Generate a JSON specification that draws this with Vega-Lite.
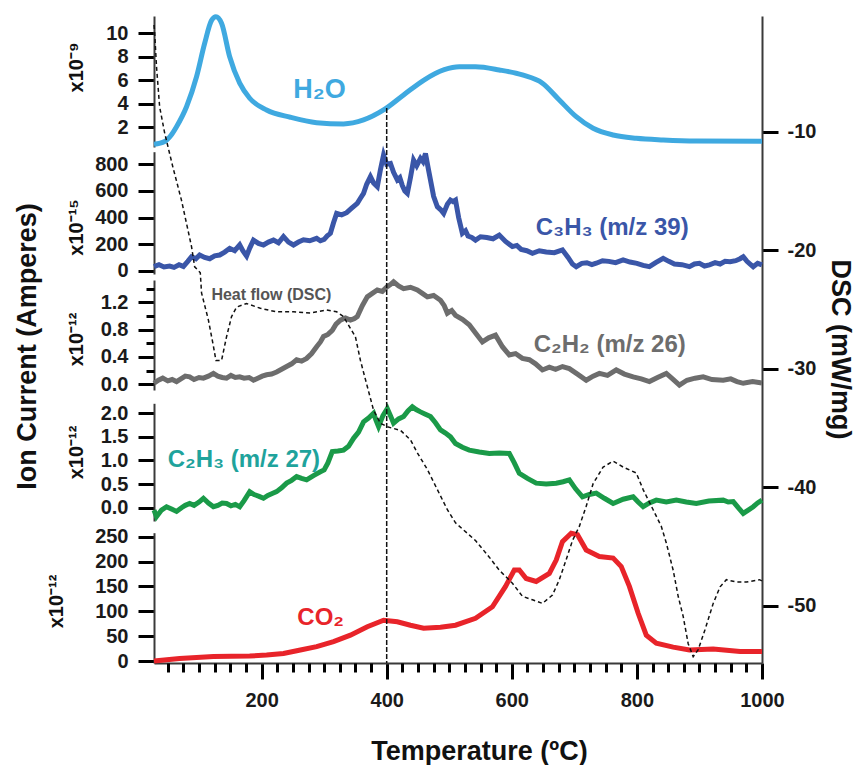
{
  "$schema": "https://vega.github.io/schema/vega-lite/v6.json",
  "width": 608,
  "height": 647,
  "autosize": {"type": "none"},
  "padding": {"left": 154, "top": 16, "right": 97, "bottom": 102},
  "background": "white",
  "config": {
    "view": {"stroke": null},
    "axis": {
      "domainColor": "#3a3a3a", "domainWidth": 2, "tickColor": "black", "tickWidth": 3,
      "tickSize": 16, "labelPadding": 10, "labelFont": "Liberation Sans", "labelFontSize": 20,
      "labelFontWeight": "bold", "labelColor": "#1a1a1a", "titleFont": "Liberation Sans",
      "titleFontWeight": "bold", "titleColor": "#111111", "grid": false, "labelFlush": false,
      "labelOverlap": false
    }
  },
  "datasets": {
    "h2o": [
      {"T":28,"v":0.55},{"T":45,"v":0.78},{"T":55,"v":1.3},{"T":64,"v":2.05},{"T":80,"v":3.75},{"T":96,"v":6.3},{"T":109,"v":9.15},{"T":120,"v":11.1},{"T":127,"v":11.4},{"T":136,"v":10.85},{"T":149,"v":8.0},{"T":165,"v":5.75},{"T":181,"v":4.47},{"T":208,"v":3.47},{"T":246,"v":2.85},{"T":288,"v":2.39},{"T":331,"v":2.28},{"T":363,"v":2.62},{"T":395,"v":3.47},{"T":427,"v":4.75},{"T":459,"v":6.0},{"T":492,"v":6.9},{"T":516,"v":7.15},{"T":542,"v":7.15},{"T":580,"v":6.88},{"T":617,"v":6.45},{"T":649,"v":5.75},{"T":676,"v":4.32},{"T":703,"v":2.9},{"T":730,"v":1.91},{"T":762,"v":1.34},{"T":799,"v":1.06},{"T":842,"v":0.92},{"T":895,"v":0.83},{"T":1000,"v":0.81}
    ],
    "c3h3": [
      {"T":28,"v":30},{"T":36,"v":45},{"T":44,"v":28},{"T":53,"v":35},{"T":60,"v":25},{"T":68,"v":45},{"T":75,"v":32},{"T":82,"v":70},{"T":88,"v":105},{"T":95,"v":90},{"T":101,"v":118},{"T":109,"v":100},{"T":117,"v":90},{"T":125,"v":112},{"T":133,"v":118},{"T":141,"v":140},{"T":149,"v":168},{"T":157,"v":150},{"T":165,"v":194},{"T":170,"v":150},{"T":176,"v":110},{"T":181,"v":170},{"T":187,"v":230},{"T":195,"v":205},{"T":203,"v":193},{"T":211,"v":215},{"T":219,"v":230},{"T":227,"v":210},{"T":235,"v":256},{"T":243,"v":215},{"T":251,"v":193},{"T":259,"v":215},{"T":267,"v":232},{"T":277,"v":225},{"T":288,"v":243},{"T":294,"v":225},{"T":300,"v":235},{"T":305,"v":262},{"T":310,"v":281},{"T":315,"v":360},{"T":320,"v":431},{"T":328,"v":420},{"T":336,"v":436},{"T":344,"v":470},{"T":353,"v":507},{"T":358,"v":545},{"T":363,"v":582},{"T":368,"v":650},{"T":374,"v":707},{"T":379,"v":660},{"T":385,"v":632},{"T":390,"v":760},{"T":395,"v":870},{"T":400,"v":800},{"T":406,"v":807},{"T":411,"v":740},{"T":417,"v":683},{"T":421,"v":700},{"T":425,"v":640},{"T":429,"v":600},{"T":433,"v":582},{"T":438,"v":700},{"T":443,"v":832},{"T":448,"v":790},{"T":454,"v":845},{"T":458,"v":820},{"T":462,"v":882},{"T":466,"v":780},{"T":470,"v":682},{"T":475,"v":560},{"T":481,"v":481},{"T":486,"v":460},{"T":491,"v":431},{"T":497,"v":500},{"T":502,"v":531},{"T":506,"v":520},{"T":510,"v":531},{"T":515,"v":400},{"T":521,"v":281},{"T":526,"v":300},{"T":530,"v":260},{"T":536,"v":250},{"T":542,"v":230},{"T":550,"v":255},{"T":560,"v":250},{"T":570,"v":240},{"T":580,"v":268},{"T":590,"v":220},{"T":601,"v":181},{"T":608,"v":190},{"T":615,"v":160},{"T":624,"v":150},{"T":633,"v":131},{"T":644,"v":150},{"T":655,"v":140},{"T":668,"v":135},{"T":681,"v":156},{"T":690,"v":100},{"T":697,"v":50},{"T":703,"v":30},{"T":712,"v":55},{"T":720,"v":60},{"T":728,"v":45},{"T":735,"v":56},{"T":745,"v":75},{"T":755,"v":70},{"T":766,"v":60},{"T":778,"v":81},{"T":789,"v":65},{"T":800,"v":55},{"T":810,"v":40},{"T":820,"v":30},{"T":830,"v":60},{"T":842,"v":93},{"T":851,"v":70},{"T":860,"v":50},{"T":872,"v":45},{"T":884,"v":30},{"T":892,"v":50},{"T":900,"v":55},{"T":908,"v":35},{"T":916,"v":44},{"T":925,"v":60},{"T":933,"v":50},{"T":941,"v":70},{"T":949,"v":68},{"T":958,"v":75},{"T":965,"v":90},{"T":970,"v":105},{"T":976,"v":70},{"T":981,"v":50},{"T":986,"v":30},{"T":993,"v":55},{"T":1000,"v":43}
    ],
    "c2h2": [
      {"T":28,"v":0.015},{"T":35,"v":0.06},{"T":42,"v":0.09},{"T":50,"v":0.05},{"T":57,"v":0.07},{"T":64,"v":0.04},{"T":71,"v":0.08},{"T":78,"v":0.12},{"T":85,"v":0.11},{"T":92,"v":0.07},{"T":100,"v":0.1},{"T":107,"v":0.09},{"T":115,"v":0.12},{"T":123,"v":0.16},{"T":130,"v":0.12},{"T":137,"v":0.1},{"T":144,"v":0.09},{"T":151,"v":0.13},{"T":158,"v":0.1},{"T":165,"v":0.11},{"T":172,"v":0.09},{"T":180,"v":0.1},{"T":187,"v":0.06},{"T":194,"v":0.09},{"T":201,"v":0.12},{"T":208,"v":0.14},{"T":216,"v":0.15},{"T":224,"v":0.18},{"T":232,"v":0.22},{"T":240,"v":0.26},{"T":248,"v":0.3},{"T":256,"v":0.36},{"T":264,"v":0.34},{"T":272,"v":0.38},{"T":280,"v":0.45},{"T":288,"v":0.55},{"T":294,"v":0.62},{"T":299,"v":0.7},{"T":306,"v":0.73},{"T":313,"v":0.79},{"T":319,"v":0.88},{"T":326,"v":0.94},{"T":334,"v":0.97},{"T":342,"v":0.94},{"T":348,"v":0.96},{"T":353,"v":0.99},{"T":361,"v":1.15},{"T":369,"v":1.28},{"T":377,"v":1.33},{"T":385,"v":1.38},{"T":393,"v":1.36},{"T":401,"v":1.43},{"T":406,"v":1.46},{"T":411,"v":1.5},{"T":419,"v":1.44},{"T":427,"v":1.4},{"T":438,"v":1.42},{"T":449,"v":1.38},{"T":457,"v":1.33},{"T":465,"v":1.28},{"T":475,"v":1.3},{"T":486,"v":1.23},{"T":492,"v":1.15},{"T":497,"v":1.04},{"T":504,"v":1.08},{"T":510,"v":1.01},{"T":521,"v":0.95},{"T":532,"v":0.87},{"T":542,"v":0.75},{"T":553,"v":0.62},{"T":563,"v":0.68},{"T":574,"v":0.72},{"T":585,"v":0.55},{"T":596,"v":0.43},{"T":606,"v":0.45},{"T":617,"v":0.38},{"T":628,"v":0.36},{"T":638,"v":0.3},{"T":649,"v":0.21},{"T":660,"v":0.25},{"T":670,"v":0.22},{"T":681,"v":0.26},{"T":692,"v":0.23},{"T":705,"v":0.15},{"T":719,"v":0.06},{"T":730,"v":0.12},{"T":740,"v":0.16},{"T":753,"v":0.13},{"T":767,"v":0.21},{"T":780,"v":0.15},{"T":794,"v":0.11},{"T":807,"v":0.08},{"T":820,"v":0.04},{"T":833,"v":0.1},{"T":847,"v":0.16},{"T":857,"v":0.08},{"T":868,"v":-0.01},{"T":880,"v":0.06},{"T":893,"v":0.09},{"T":906,"v":0.11},{"T":920,"v":0.07},{"T":938,"v":0.06},{"T":950,"v":0.08},{"T":960,"v":0.04},{"T":970,"v":0.015},{"T":985,"v":0.04},{"T":1000,"v":0.02}
    ],
    "c2h3": [
      {"T":28,"v":-0.05},{"T":32,"v":-0.19},{"T":40,"v":-0.05},{"T":48,"v":0.02},{"T":56,"v":-0.03},{"T":64,"v":-0.08},{"T":72,"v":0.0},{"T":78,"v":0.05},{"T":85,"v":0.09},{"T":92,"v":0.05},{"T":100,"v":0.12},{"T":107,"v":0.2},{"T":115,"v":0.1},{"T":123,"v":0.02},{"T":130,"v":0.05},{"T":137,"v":0.1},{"T":144,"v":0.09},{"T":151,"v":0.04},{"T":158,"v":0.07},{"T":165,"v":0.02},{"T":172,"v":0.15},{"T":181,"v":0.34},{"T":188,"v":0.28},{"T":196,"v":0.24},{"T":203,"v":0.2},{"T":210,"v":0.26},{"T":217,"v":0.3},{"T":224,"v":0.34},{"T":232,"v":0.42},{"T":240,"v":0.52},{"T":248,"v":0.58},{"T":256,"v":0.66},{"T":264,"v":0.62},{"T":272,"v":0.59},{"T":283,"v":0.68},{"T":294,"v":0.76},{"T":300,"v":0.8},{"T":306,"v":0.95},{"T":313,"v":1.19},{"T":322,"v":1.2},{"T":331,"v":1.22},{"T":339,"v":1.3},{"T":347,"v":1.47},{"T":355,"v":1.6},{"T":363,"v":1.82},{"T":371,"v":1.9},{"T":379,"v":2.0},{"T":383,"v":1.85},{"T":387,"v":1.72},{"T":394,"v":1.95},{"T":401,"v":2.1},{"T":406,"v":1.95},{"T":411,"v":1.79},{"T":419,"v":1.88},{"T":427,"v":1.93},{"T":434,"v":2.05},{"T":441,"v":2.14},{"T":447,"v":2.08},{"T":454,"v":2.03},{"T":462,"v":1.98},{"T":470,"v":1.93},{"T":478,"v":1.8},{"T":486,"v":1.65},{"T":494,"v":1.58},{"T":502,"v":1.5},{"T":510,"v":1.36},{"T":521,"v":1.28},{"T":532,"v":1.22},{"T":548,"v":1.18},{"T":564,"v":1.15},{"T":580,"v":1.16},{"T":596,"v":1.15},{"T":604,"v":0.95},{"T":612,"v":0.73},{"T":625,"v":0.62},{"T":639,"v":0.52},{"T":655,"v":0.5},{"T":671,"v":0.52},{"T":682,"v":0.55},{"T":692,"v":0.59},{"T":702,"v":0.4},{"T":713,"v":0.23},{"T":724,"v":0.28},{"T":735,"v":0.31},{"T":748,"v":0.2},{"T":762,"v":0.09},{"T":778,"v":0.18},{"T":794,"v":0.23},{"T":802,"v":0.12},{"T":810,"v":0.02},{"T":820,"v":0.1},{"T":831,"v":0.16},{"T":847,"v":0.12},{"T":863,"v":0.16},{"T":879,"v":0.12},{"T":895,"v":0.09},{"T":915,"v":0.14},{"T":938,"v":0.16},{"T":946,"v":0.12},{"T":954,"v":0.13},{"T":962,"v":0.0},{"T":970,"v":-0.12},{"T":978,"v":-0.05},{"T":986,"v":0.02},{"T":993,"v":0.1},{"T":1000,"v":0.16}
    ],
    "co2": [
      {"T":28,"v":0},{"T":69,"v":5},{"T":123,"v":9},{"T":181,"v":10},{"T":208,"v":12},{"T":235,"v":15},{"T":262,"v":22},{"T":288,"v":29},{"T":315,"v":39},{"T":342,"v":52},{"T":369,"v":69},{"T":395,"v":82},{"T":417,"v":79},{"T":438,"v":72},{"T":459,"v":66},{"T":486,"v":68},{"T":510,"v":72},{"T":542,"v":86},{"T":569,"v":109},{"T":590,"v":150},{"T":604,"v":183},{"T":612,"v":183},{"T":623,"v":166},{"T":639,"v":160},{"T":660,"v":176},{"T":671,"v":203},{"T":681,"v":240},{"T":695,"v":257},{"T":705,"v":254},{"T":719,"v":223},{"T":740,"v":210},{"T":762,"v":207},{"T":775,"v":190},{"T":788,"v":150},{"T":802,"v":96},{"T":815,"v":52},{"T":831,"v":36},{"T":858,"v":28},{"T":884,"v":22},{"T":922,"v":24},{"T":965,"v":19},{"T":1000,"v":19}
    ],
    "dsc": [
      {"T":28,"v":-1.0},{"T":29,"v":-1.6},{"T":32,"v":-4.5},{"T":37,"v":-7.9},{"T":45,"v":-10.1},{"T":58,"v":-12.95},{"T":72,"v":-15.8},{"T":88,"v":-19.7},{"T":93,"v":-21.4},{"T":102,"v":-21.9},{"T":104,"v":-23.6},{"T":115,"v":-25.9},{"T":123,"v":-28.1},{"T":127,"v":-29.3},{"T":136,"v":-29.3},{"T":144,"v":-27.3},{"T":152,"v":-25.6},{"T":160,"v":-24.8},{"T":176,"v":-24.5},{"T":198,"v":-24.9},{"T":224,"v":-25.2},{"T":251,"v":-25.2},{"T":278,"v":-25.3},{"T":304,"v":-25.05},{"T":320,"v":-25.2},{"T":331,"v":-25.6},{"T":342,"v":-26.6},{"T":350,"v":-27.3},{"T":358,"v":-29.3},{"T":369,"v":-31.5},{"T":379,"v":-33.5},{"T":390,"v":-34.6},{"T":401,"v":-34.9},{"T":422,"v":-35.2},{"T":438,"v":-36.0},{"T":449,"v":-37.1},{"T":465,"v":-38.5},{"T":481,"v":-40.2},{"T":497,"v":-41.9},{"T":510,"v":-43.0},{"T":542,"v":-44.5},{"T":564,"v":-45.9},{"T":580,"v":-47.0},{"T":601,"v":-48.1},{"T":617,"v":-49.2},{"T":633,"v":-49.5},{"T":649,"v":-49.8},{"T":665,"v":-49.1},{"T":676,"v":-47.8},{"T":687,"v":-46.1},{"T":697,"v":-44.5},{"T":708,"v":-43.3},{"T":719,"v":-41.6},{"T":730,"v":-39.7},{"T":746,"v":-38.3},{"T":762,"v":-37.8},{"T":778,"v":-38.3},{"T":799,"v":-38.8},{"T":810,"v":-40.2},{"T":826,"v":-41.9},{"T":839,"v":-43.3},{"T":847,"v":-44.7},{"T":858,"v":-47.0},{"T":866,"v":-49.2},{"T":874,"v":-50.9},{"T":882,"v":-53.2},{"T":890,"v":-54.3},{"T":898,"v":-53.7},{"T":909,"v":-52.0},{"T":922,"v":-49.8},{"T":933,"v":-48.4},{"T":943,"v":-47.8},{"T":959,"v":-48.0},{"T":975,"v":-48.0},{"T":996,"v":-47.8},{"T":1000,"v":-47.9}
    ],
    "marker": [{"T":400,"v":-8.0,"v2":-54.83}],
    "labels": [
      {"T":760.5,"v":-18.72,"label":"C₃H₃  (m/z 39)","series":"C3H3"},
      {"T":756.6,"v":-28.56,"label":"C₂H₂ (m/z 26)","series":"C2H2"},
      {"T":171.7,"v":-38.26,"label":"C₂H₃ (m/z 27)","series":"C2H3"},
      {"T":294.5,"v":-51.62,"label":"CO₂","series":"CO2"}
    ],
    "h2olabel": [{"T":292.4,"v":-7.18,"label":"H₂O"}],
    "heatlabel": [{"T":215.7,"v":1.234,"label":"Heat flow (DSC)"}]
  },
  "encoding": {
    "x": {"field": "T", "type": "quantitative", "scale": {"domain": [28, 1000], "nice": false, "zero": false}, "axis": null}
  },
  "layer": [
    {
      "data": {"name": "h2o"},
      "mark": {"type": "line", "color": "#3FA9E0", "strokeWidth": 5, "interpolate": "monotone"},
      "encoding": {
        "x": {"field": "T", "type": "quantitative", "scale": {"domain": [28, 1000], "nice": false, "zero": false},
          "axis": {"orient": "bottom", "values": [200, 400, 600, 800, 1000], "format": "d", "tickSize": 16, "labelPadding": 11,
            "title": "Temperature (ºC)", "titleFontSize": 27, "titleX": 325, "titleY": 75}},
        "y": {"field": "v", "type": "quantitative",
          "scale": {"domain": [0.32, 11.47], "range": [131, 0], "nice": false, "zero": false},
          "axis": {"orient": "left", "values": [2,4,6,8,10], "title": "x10⁻⁹", "titleFontSize": 20, "titleX": -68, "titleY": 51}}
      }
    },
    {
      "data": {"name": "c3h3"},
      "mark": {"type": "line", "color": "#3A56A8", "strokeWidth": 5},
      "encoding": {
        "y": {"field": "v", "type": "quantitative",
          "scale": {"domain": [-25, 895], "range": [258, 135.7], "nice": false, "zero": false},
          "axis": {"orient": "left", "values": [0,200,400,600,800], "title": "x10⁻¹⁵", "titleFontSize": 20, "titleX": -68, "titleY": 211}}
      }
    },
    {
      "data": {"name": "c2h2"},
      "mark": {"type": "line", "color": "#6D6D6D", "strokeWidth": 5},
      "encoding": {
        "y": {"field": "v", "type": "quantitative",
          "scale": {"domain": [-0.083, 1.526], "range": [374, 264], "nice": false, "zero": false},
          "axis": {"orient": "left", "values": [0,0.4,0.8,1.2], "format": ".1f", "title": "x10⁻¹²", "titleFontSize": 20, "titleX": -68, "titleY": 323}}
      }
    },
    {
      "data": {"name": "c2h3"},
      "mark": {"type": "line", "color": "#1A9A48", "strokeWidth": 5},
      "encoding": {
        "y": {"field": "v", "type": "quantitative",
          "scale": {"domain": [-0.282, 2.212], "range": [505, 387.3], "nice": false, "zero": false},
          "axis": {"orient": "left", "values": [0,0.5,1.0,1.5,2.0], "format": ".1f", "title": "x10⁻¹²", "titleFontSize": 20, "titleX": -68, "titleY": 436}}
      }
    },
    {
      "data": {"name": "co2"},
      "mark": {"type": "line", "color": "#E8242A", "strokeWidth": 5},
      "encoding": {
        "y": {"field": "v", "type": "quantitative",
          "scale": {"domain": [-4, 258], "range": [647, 516.7], "nice": false, "zero": false},
          "axis": {"orient": "left", "values": [0,50,100,150,200,250], "title": "x10⁻¹²", "titleFontSize": 20, "titleX": -88, "titleY": 585}}
      }
    },
    {
      "data": {"name": "dsc"},
      "mark": {"type": "line", "color": "#111111", "strokeWidth": 1.5, "strokeDash": [4, 3]},
      "encoding": {
        "y": {"field": "v", "type": "quantitative",
          "scale": {"domain": [-54.83, -0.24], "range": [647, 0], "nice": false, "zero": false},
          "axis": {"orient": "right", "values": [-50,-40,-30,-20,-10], "labelExpr": "'-' + abs(datum.value)", "labelPadding": 9, "title": "DSC (mW/mg)", "titleFontSize": 27, "titleX": 63, "titleY": 333}}
      }
    },
    {
      "data": {"name": "marker"},
      "mark": {"type": "rule", "color": "#111111", "strokeWidth": 1.5, "strokeDash": [5, 2]},
      "encoding": {
        "y": {"field": "v", "type": "quantitative",
          "scale": {"domain": [-54.83, -0.24], "range": [647, 0], "nice": false, "zero": false}, "axis": null},
        "y2": {"field": "v2"}
      }
    },
    {
      "data": {"name": "labels"},
      "mark": {"type": "text", "font": "Liberation Sans", "fontWeight": "bold", "fontSize": 24, "align": "center", "baseline": "alphabetic"},
      "encoding": {
        "y": {"field": "v", "type": "quantitative",
          "scale": {"domain": [-54.83, -0.24], "range": [647, 0], "nice": false, "zero": false},
          "axis": {"orient": "left", "domain": false, "ticks": false, "labels": false, "title": "Ion Current (Amperes)", "titleFontSize": 27, "titleX": -113, "titleY": 330}},
        "text": {"field": "label"},
        "color": {"field": "series", "type": "nominal",
          "scale": {"domain": ["C3H3","C2H2","C2H3","CO2"], "range": ["#3A56A8","#6D6D6D","#1FA39C","#E8242A"]}, "legend": null}
      }
    },
    {
      "data": {"name": "h2olabel"},
      "mark": {"type": "text", "font": "Liberation Sans", "fontWeight": "bold", "fontSize": 27, "align": "center", "baseline": "alphabetic", "color": "#3FA9E0"},
      "encoding": {
        "x": {"field": "T", "type": "quantitative", "scale": {"domain": [28, 1000], "nice": false, "zero": false},
          "axis": {"orient": "bottom", "values": [50,75,100,125,150,175,225,250,275,300,325,350,375,425,450,475,500,525,550,575,625,650,675,700,725,750,775,825,850,875,900,925,950,975],
            "tickSize": 9, "labels": false, "domain": false, "title": null}},
        "y": {"field": "v", "type": "quantitative",
          "scale": {"domain": [-54.83, -0.24], "range": [647, 0], "nice": false, "zero": false}, "axis": null},
        "text": {"field": "label"}
      }
    },
    {
      "data": {"name": "heatlabel"},
      "mark": {"type": "text", "font": "Liberation Sans", "fontWeight": "bold", "fontSize": 16, "align": "center", "baseline": "alphabetic", "color": "#555555"},
      "encoding": {
        "y": {"field": "v", "type": "quantitative",
          "scale": {"domain": [-0.083, 1.526], "range": [374, 264], "nice": false, "zero": false},
          "axis": {"orient": "left", "values": [0.2, 0.6, 1.0, 1.4], "tickSize": 8, "labels": false, "domain": false, "title": null}},
        "text": {"field": "label"}
      }
    }
  ],
  "resolve": {"scale": {"y": "independent", "color": "independent"}, "axis": {"x": "independent"}}
}
